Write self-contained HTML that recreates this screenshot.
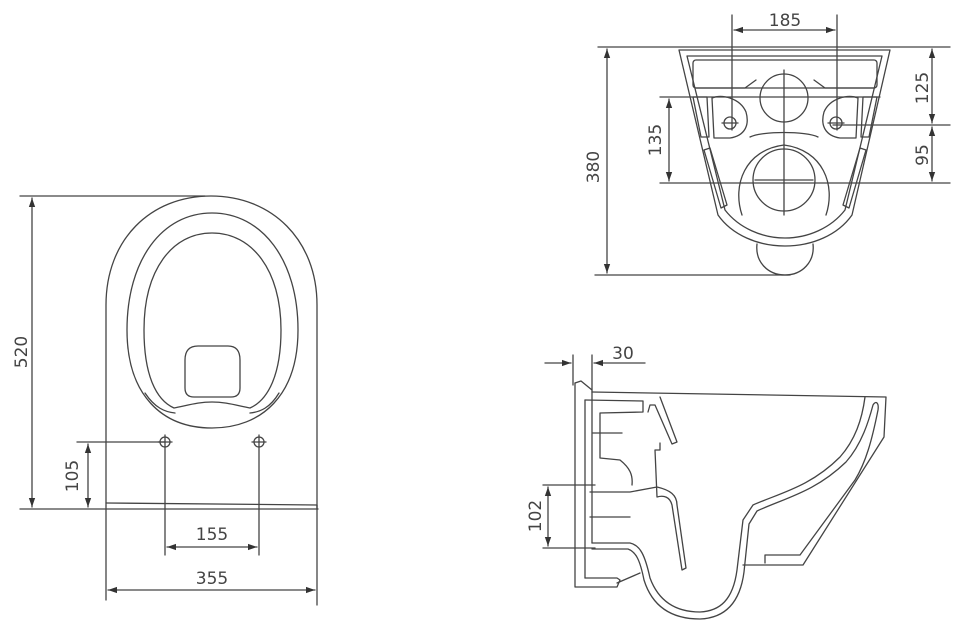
<!DOCTYPE html>
<html><head><meta charset="utf-8"><style>
html,body{margin:0;padding:0;background:#fff}
svg{display:block}
text{font-family:"DejaVu Sans","Liberation Sans",sans-serif;font-size:17px;fill:#444}
</style></head><body>
<svg width="960" height="625" viewBox="0 0 960 625" xmlns="http://www.w3.org/2000/svg">
<defs>
<marker id="a" viewBox="0 0 10 10" refX="10" refY="5" markerWidth="9" markerHeight="9" orient="auto-start-reverse" markerUnits="userSpaceOnUse"><path d="M0,1.5 L10,5 L0,8.5 z" fill="#333"/></marker>
</defs>
<g fill="none" stroke="#444" stroke-width="1.3" stroke-linejoin="round" stroke-linecap="round">
<!-- LEFT VIEW -->
<line x1="20" y1="196" x2="205" y2="196"/>
<line x1="20" y1="509" x2="318" y2="509"/>
<line x1="32" y1="198" x2="32" y2="507" marker-start="url(#a)" marker-end="url(#a)"/>
<path d="M106,506 L106,305 C106,240 150,196 211,196 C272,196 317,240 317,305 L317,506"/>
<path d="M106,503 L317,505 L317,509"/>
<path d="M212,213 C262,213 298,260 298,330 C298,395 262,428 212,428 C162,428 127,395 127,330 C127,260 162,213 212,213 Z"/>
<path d="M212,233 C252,233 281,270 281,330 C281,375 268,400 250,408 C235,405 225,402 212,402 C199,402 189,405 174,408 C156,400 144,375 144,330 C144,270 172,233 212,233 Z"/>
<path d="M145,393 C155,408 165,412 175,413"/><path d="M279,393 C270,408 260,412 250,413"/>
<path d="M198,346 L228,346 Q240,346 240,360 L240,388 Q240,397 231,397 L194,397 Q185,397 185,388 L185,360 Q185,346 198,346 Z"/>
<circle cx="165" cy="442" r="5"/><circle cx="259" cy="442" r="5"/>
<line x1="158" y1="442" x2="172" y2="442"/><line x1="252" y1="442" x2="266" y2="442"/>
<line x1="77" y1="442" x2="165" y2="442"/>
<line x1="88" y1="444" x2="88" y2="507" marker-start="url(#a)" marker-end="url(#a)"/>
<line x1="165" y1="435" x2="165" y2="555"/><line x1="259" y1="435" x2="259" y2="555"/>
<line x1="167" y1="547" x2="257" y2="547" marker-start="url(#a)" marker-end="url(#a)"/>
<line x1="106" y1="506" x2="106" y2="600"/><line x1="317" y1="506" x2="317" y2="605"/>
<line x1="108" y1="590" x2="315" y2="590" marker-start="url(#a)" marker-end="url(#a)"/>

<!-- TOP RIGHT VIEW -->
<line x1="598" y1="47" x2="950" y2="47"/>
<line x1="595" y1="275" x2="790" y2="275"/>
<line x1="607" y1="49" x2="607" y2="273" marker-start="url(#a)" marker-end="url(#a)"/>
<line x1="732" y1="15" x2="732" y2="130"/><line x1="837" y1="15" x2="837" y2="130"/>
<line x1="734" y1="30" x2="835" y2="30" marker-start="url(#a)" marker-end="url(#a)"/>
<line x1="833" y1="125" x2="950" y2="125"/>
<line x1="660" y1="183" x2="950" y2="183"/>
<line x1="660" y1="97" x2="880" y2="97"/>
<line x1="932" y1="49" x2="932" y2="123" marker-start="url(#a)" marker-end="url(#a)"/>
<line x1="932" y1="127" x2="932" y2="181" marker-start="url(#a)" marker-end="url(#a)"/>
<line x1="669" y1="99" x2="669" y2="181" marker-start="url(#a)" marker-end="url(#a)"/>
<path d="M679,50 L890,50 L852,215 C838,235 812,246 785,246 C758,246 732,235 718,215 Z"/>
<path d="M687,56 L882,56 L845,210 C831,228 808,238 785,238 C762,238 739,228 725,210 Z"/>
<rect x="693" y="60" width="184" height="28" rx="3"/>
<path d="M696,88 L745,88 L756,80 M874,88 L825,88 L814,80"/>
<circle cx="784" cy="98" r="24"/>
<circle cx="784" cy="180" r="31"/>
<path d="M742,215 C732,185 745,150 784,145 C823,150 836,185 826,215"/>
<path d="M750,137 C762,131 806,131 818,137"/>
<line x1="784" y1="70" x2="784" y2="215"/><line x1="755" y1="180" x2="813" y2="180"/>
<circle cx="730" cy="123" r="6"/><circle cx="836" cy="123" r="6"/>
<line x1="722" y1="123" x2="738" y2="123"/><line x1="828" y1="123" x2="844" y2="123"/>
<path d="M712,98 C722,94 740,98 746,112 C750,126 744,136 730,138 L714,138 Z"/>
<path d="M858,98 C848,94 830,98 824,112 C820,126 826,136 840,138 L856,138 Z"/>
<path d="M693,97 L707,97 L709,137 L701,137 Z"/><path d="M877,97 L863,97 L861,137 L869,137 Z"/>
<path d="M704,150 L710,148 L727,205 L721,208 Z"/><path d="M866,150 L860,148 L843,205 L849,208 Z"/>
<path d="M757,244 C755,262 768,275 785,275 C802,275 815,262 813,244"/>

<!-- SIDE VIEW -->
<line x1="545" y1="363" x2="571" y2="363" marker-end="url(#a)"/>
<line x1="645" y1="363" x2="594" y2="363" marker-end="url(#a)"/>
<line x1="573" y1="355" x2="573" y2="385"/><line x1="592" y1="355" x2="592" y2="392"/>
<path d="M575,383 L575,587 L617,587 L620,580 L617,578 L585,578"/>
<path d="M575,383 L581,381 L592,390"/>
<line x1="585" y1="400" x2="585" y2="578"/>
<line x1="592" y1="392" x2="592" y2="543"/>
<path d="M592,392 L886,397 L884,437 L803,565 L743,565"/>
<path d="M585,400 L643,401 L643,412 L600,413 L600,458 L620,460 C630,468 633,475 632,485"/>
<path d="M660,397 L677,442 L672,444 L655,405 L650,405 L648,412"/>
<path d="M590,492 L630,492 L657,487 C670,490 677,495 677,505 L686,568 L682,570 L672,505 C670,497 664,495 657,497 L655,450 L660,450 L660,443"/>
<line x1="593" y1="433" x2="622" y2="433"/><line x1="590" y1="517" x2="630" y2="517"/>
<path d="M592,543 L630,543 C640,545 645,555 650,578 C660,605 680,612 700,612 C720,611 733,600 737,570 L743,520 L753,505 C780,493 810,487 840,457 C855,440 862,420 865,397"/>
<path d="M592,549 L628,549 C636,552 640,560 644,580 C654,612 678,619 700,619 C725,618 740,603 744,572 L749,524 L757,511 C785,498 815,492 846,462 C862,444 869,420 873,405 C876,400 879,403 878,410 C872,440 866,462 855,480 L800,555 L765,555 L765,563"/>
<path d="M617,583 L640,573"/>
<line x1="543" y1="485" x2="595" y2="485"/><line x1="543" y1="548" x2="595" y2="548"/>
<line x1="548" y1="487" x2="548" y2="546" marker-start="url(#a)" marker-end="url(#a)"/>
</g>
<text x="212" y="540" text-anchor="middle">155</text>
<text x="212" y="584" text-anchor="middle">355</text>
<text transform="translate(27,352) rotate(-90)" text-anchor="middle">520</text>
<text transform="translate(78,476) rotate(-90)" text-anchor="middle">105</text>
<text x="785" y="26" text-anchor="middle">185</text>
<text transform="translate(599,167) rotate(-90)" text-anchor="middle">380</text>
<text transform="translate(661,140) rotate(-90)" text-anchor="middle">135</text>
<text transform="translate(928,88) rotate(-90)" text-anchor="middle">125</text>
<text transform="translate(928,155) rotate(-90)" text-anchor="middle">95</text>
<text x="623" y="359" text-anchor="middle">30</text>
<text transform="translate(541,516) rotate(-90)" text-anchor="middle">102</text>
</svg>
</body></html>
